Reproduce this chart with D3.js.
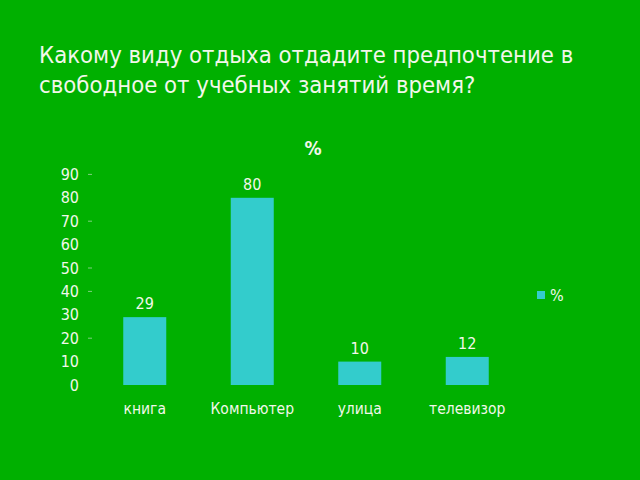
<!DOCTYPE html>
<html>
<head>
<meta charset="utf-8">
<script src="https://cdn.jsdelivr.net/npm/d3@7"></script>
<style>
  html, body { margin: 0; padding: 0; background: #00b000; }
  svg { display: block; }
  text { font-family: "DejaVu Sans Condensed", "DejaVu Sans", sans-serif; }
</style>
</head>
<body>
<div class="chart-container"></div>
<script>
//! DATA
const categories = ['книга', 'Компьютер', 'улица', 'телевизор'];
const values = [29, 80, 10, 12];
const yTicks = [0, 10, 20, 30, 40, 50, 60, 70, 80, 90];
const faintTicks = [20, 40, 50, 70, 90];
const titleLines = ['Какому виду отдыха отдадите предпочтение в', 'свободное от учебных занятий время?'];
const seriesName = '%';

//! CONSTS
const width = 640;
const height = 480;
const barColor = '#33cccc';
const textColor = '#f2f7ea';

const svg = d3.select('.chart-container')
  .append('svg')
  .attr('width', width)
  .attr('height', height);

svg.append('rect')
  .attr('width', width)
  .attr('height', height)
  .attr('fill', '#00b000');

//! TITLE
svg.append('g')
  .selectAll('text')
  .data(titleLines)
  .enter()
  .append('text')
  .attr('x', 39)
  .attr('y', (d, i) => 63 + i * 30)
  .attr('fill', textColor)
  .style('font-size', '23.7px')
  .text(d => d);

// chart title
svg.append('text')
  .attr('x', 313)
  .attr('y', 155)
  .attr('text-anchor', 'middle')
  .attr('fill', textColor)
  .style('font-size', '19px')
  .style('font-weight', 'bold')
  .text(seriesName);

//! SCALES
const xScale = d3.scaleBand()
  .domain(categories)
  .range([91, 521])
  .paddingInner(0.6)
  .paddingOuter(0.3);

const yScale = d3.scaleLinear()
  .domain([0, 90])
  .range([385, 174.4]);

//! AXES
const yAxis = d3.axisLeft(yScale)
  .tickValues(yTicks)
  .tickSize(0)
  .tickPadding(0);

const gY = svg.append('g')
  .attr('transform', 'translate(79,0)')
  .call(yAxis);
gY.select('.domain').remove();
gY.selectAll('text')
  .attr('fill', textColor)
  .style('font-size', '16px');

// faint dashes beside some ticks, as in the source image
svg.append('g')
  .selectAll('line')
  .data(faintTicks)
  .enter()
  .append('line')
  .attr('x1', 88)
  .attr('x2', 92)
  .attr('y1', d => yScale(d))
  .attr('y2', d => yScale(d))
  .attr('stroke', '#7fd27f')
  .attr('stroke-width', 1);

const xAxis = d3.axisBottom(xScale).tickSize(0).tickPadding(0);
const gX = svg.append('g')
  .attr('transform', 'translate(0,403)')
  .call(xAxis);
gX.select('.domain').remove();
gX.selectAll('text')
  .attr('fill', textColor)
  .style('font-size', '15.5px');

//! BARS
svg.append('g')
  .selectAll('rect')
  .data(values)
  .enter()
  .append('rect')
  .attr('x', (d, i) => xScale(categories[i]))
  .attr('y', d => yScale(d))
  .attr('width', xScale.bandwidth())
  .attr('height', d => yScale(0) - yScale(d))
  .attr('fill', barColor);

// value labels
svg.append('g')
  .selectAll('text')
  .data(values)
  .enter()
  .append('text')
  .attr('x', (d, i) => xScale(categories[i]) + xScale.bandwidth() / 2)
  .attr('y', d => yScale(d) - 8)
  .attr('text-anchor', 'middle')
  .attr('fill', textColor)
  .style('font-size', '16px')
  .text(d => d);

//! LEGEND
const legend = svg.append('g').attr('transform', 'translate(537,291)');
legend.append('rect')
  .attr('width', 8)
  .attr('height', 8)
  .attr('fill', barColor);
legend.append('text')
  .attr('x', 13)
  .attr('y', 10)
  .attr('fill', textColor)
  .style('font-size', '16px')
  .text(seriesName);
</script>
</body>
</html>
